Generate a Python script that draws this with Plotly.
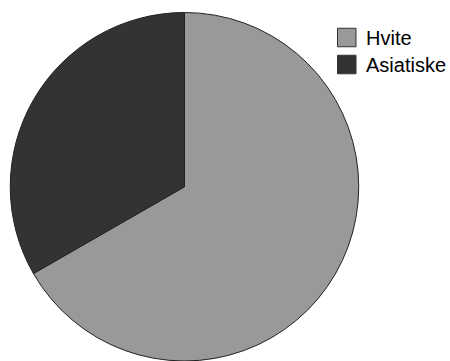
import plotly.graph_objects as go

labels = ["Hvite", "Asiatiske"]
values = [66.7, 33.3]
colors = ["#999999", "#333333"]

W, H = 450, 361
fig = go.Figure(go.Pie(
    labels=labels,
    values=values,
    sort=False,
    direction="clockwise",
    rotation=0,
    marker=dict(colors=colors, line=dict(color="#222222", width=1)),
    textinfo="none",
    hoverinfo="label+percent",
    showlegend=False,
    domain=dict(x=[0, 369 / W], y=[0, 1 - 12.5 / H]),
))

# custom legend (larger swatches as in the reference)
sw_left, sw_size, txt_x = 337.5, 18.5, 364
row_centers = [37.5, 64.5]
shapes, annotations = [], []
for lab, col, cy in zip(labels, colors, row_centers):
    shapes.append(dict(
        type="rect", xref="paper", yref="paper",
        x0=sw_left / W, x1=(sw_left + sw_size) / W,
        y0=1 - (cy + sw_size / 2) / H, y1=1 - (cy - sw_size / 2) / H,
        fillcolor=col, line=dict(color="#333333", width=1),
    ))
    annotations.append(dict(
        xref="paper", yref="paper", x=txt_x / W, y=1 - (cy + 1) / H,
        xanchor="left", yanchor="middle", text=lab, showarrow=False,
        font=dict(size=20, family="Arial, Liberation Sans, sans-serif", color="#000000"),
    ))

fig.update_layout(
    width=W, height=H,
    margin=dict(l=0, r=0, t=0, b=0),
    paper_bgcolor="white",
    plot_bgcolor="white",
    font=dict(family="Arial, Liberation Sans, sans-serif", color="#000000"),
    shapes=shapes,
    annotations=annotations,
)
fig.write_html("out.html")
